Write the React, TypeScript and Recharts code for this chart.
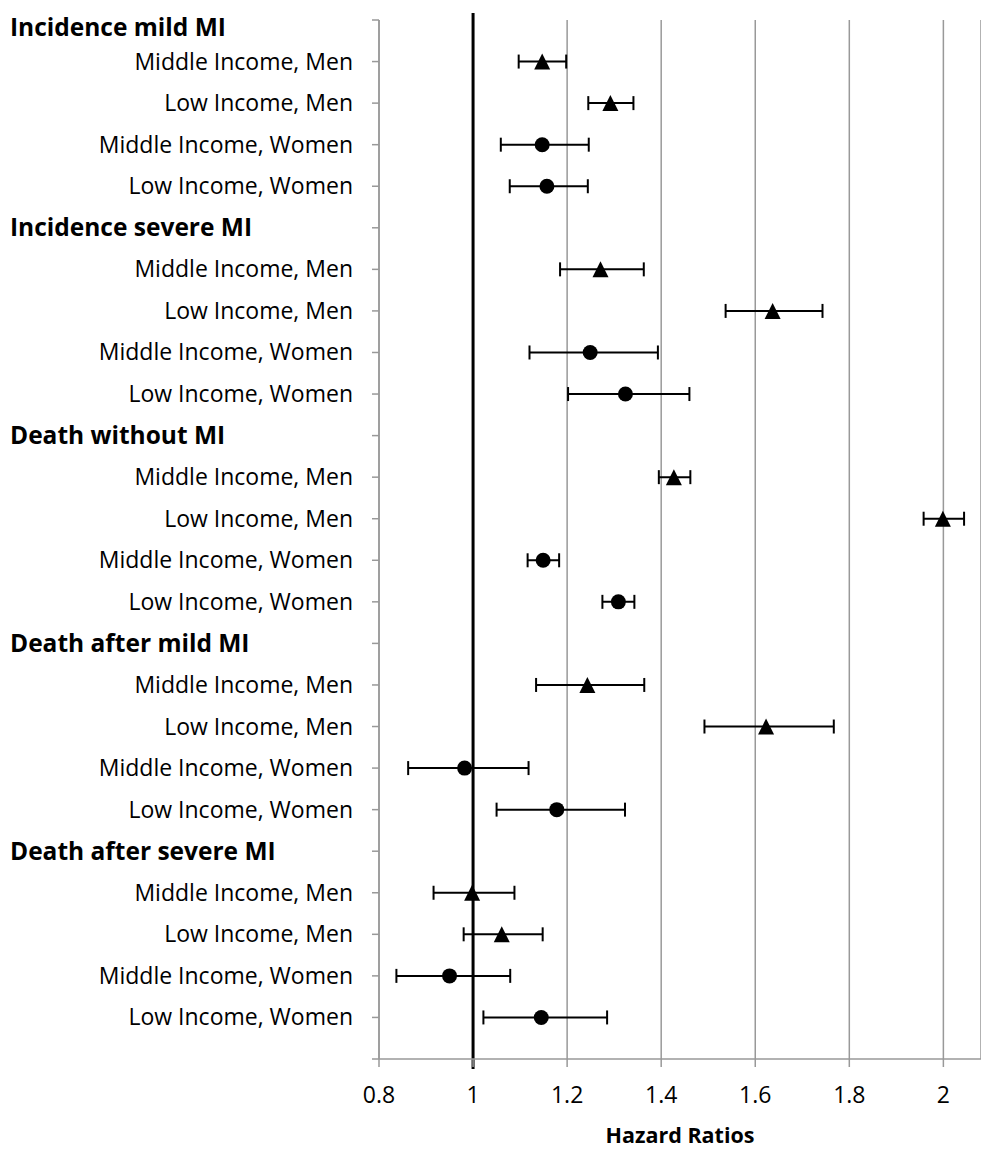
import React from "react";
import {
  ScatterChart,
  Scatter,
  XAxis,
  YAxis,
  CartesianGrid,
  ErrorBar,
  ReferenceLine,
  Label,
} from "recharts";

const groups = [
  "Incidence mild MI",
  "Incidence severe MI",
  "Death without MI",
  "Death after mild MI",
  "Death after severe MI",
];
const subgroups = [
  "Middle Income, Men",
  "Low Income, Men",
  "Middle Income, Women",
  "Low Income, Women",
];

// hazard ratio per group, order as subgroups
const hazardRatios = [
  [1.147, 1.292, 1.147, 1.157],
  [1.271, 1.637, 1.249, 1.324],
  [1.427, 1.999, 1.149, 1.309],
  [1.243, 1.623, 0.982, 1.178],
  [0.998, 1.061, 0.95, 1.145],
];
const lowerCI = [
  [1.097, 1.245, 1.059, 1.078],
  [1.185, 1.537, 1.12, 1.202],
  [1.395, 1.958, 1.116, 1.275],
  [1.134, 1.492, 0.862, 1.05],
  [0.916, 0.98, 0.837, 1.022],
];
const upperCI = [
  [1.198, 1.341, 1.246, 1.244],
  [1.363, 1.743, 1.393, 1.46],
  [1.462, 2.044, 1.183, 1.343],
  [1.364, 1.767, 1.118, 1.323],
  [1.088, 1.148, 1.079, 1.285],
];

const xTicks = [0.8, 1, 1.2, 1.4, 1.6, 1.8, 2];
const FONT = "'Open Sans', Lato, sans-serif";

const rowCount = groups.length * (subgroups.length + 1);
const labelByPos: Record<number, { text: string; header: boolean }> = {};
const men: any[] = [];
const women: any[] = [];
groups.forEach((g, gi) => {
  const top = rowCount - gi * (subgroups.length + 1);
  labelByPos[top] = { text: g, header: true };
  subgroups.forEach((s, si) => {
    const pos = top - 1 - si;
    labelByPos[pos] = { text: s, header: false };
    const row = {
      y: pos,
      hr: hazardRatios[gi][si],
      err: [hazardRatios[gi][si] - lowerCI[gi][si], upperCI[gi][si] - hazardRatios[gi][si]],
    };
    if (s.endsWith("Men")) men.push(row);
    else women.push(row);
  });
});
const yTicks = Array.from({ length: rowCount + 1 }, (_, i) => i);

const YTick = (props: any) => {
  const { y, payload } = props;
  const lab = labelByPos[payload.value];
  if (!lab) return null;
  if (lab.header) {
    return (
      <text x={10} y={Math.max(y, 27)} dy={8.5} textAnchor="start" fontFamily={FONT} fontSize={24.5} fontWeight="bold" fill="#000">
        {lab.text}
      </text>
    );
  }
  return (
    <text x={353} y={y} dy={8} textAnchor="end" fontFamily={FONT} fontSize={23} fill="#000">
      {lab.text}
    </text>
  );
};

const Triangle = (props: any) => {
  const { cx, cy } = props;
  return <polygon points={`${cx},${cy - 8} ${cx + 8},${cy + 8} ${cx - 8},${cy + 8}`} fill="#000" />;
};
const Dot = (props: any) => {
  const { cx, cy } = props;
  return <circle cx={cx} cy={cy} r={7.5} fill="#000" />;
};

export default function App() {
  return (
    <div style={{ width: 981, height: 1149 }}>
      <style>{`body{margin:0;background:#fff}`}</style>
      <ScatterChart width={981} height={1149} margin={{ top: 20, right: 0, bottom: 0, left: 0 }}>
        <CartesianGrid horizontal={false} stroke="#999" strokeWidth={1.5} />
        <XAxis
          type="number"
          dataKey="hr"
          domain={[0.8, 2.08]}
          ticks={xTicks}
          allowDataOverflow
          height={90}
          stroke="#999"
          strokeWidth={1.5}
          tickSize={8}
          tickMargin={20}
          tick={{ fill: "#000", fontSize: 23, fontFamily: FONT }}
        >
          <Label
            value="Hazard Ratios"
            position="insideBottom"
            offset={6}
            style={{ fontFamily: FONT, fontSize: 21.5, fontWeight: "bold", fill: "#000" }}
          />
        </XAxis>
        <YAxis
          type="number"
          dataKey="y"
          domain={[0, rowCount]}
          ticks={yTicks}
          interval={0}
          width={379}
          stroke="#999"
          strokeWidth={1.5}
          tickSize={7}
          tick={<YTick />}
        />
        <ReferenceLine
          segment={[
            { x: 1, y: rowCount + 0.17 },
            { x: 1, y: -0.24 },
          ]}
          ifOverflow="visible"
          stroke="#000"
          strokeWidth={3}
        />
        <Scatter data={men} shape={<Triangle />} isAnimationActive={false}>
          <ErrorBar dataKey="err" direction="x" width={7} stroke="#000" strokeWidth={2} />
        </Scatter>
        <Scatter data={women} shape={<Dot />} isAnimationActive={false}>
          <ErrorBar dataKey="err" direction="x" width={7} stroke="#000" strokeWidth={2} />
        </Scatter>
      </ScatterChart>
    </div>
  );
}
